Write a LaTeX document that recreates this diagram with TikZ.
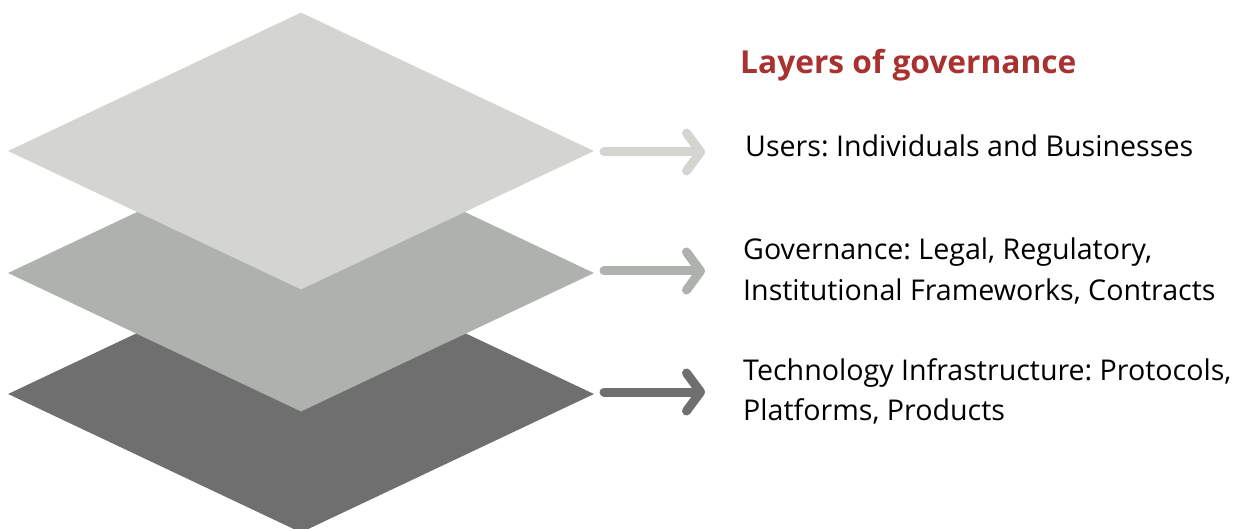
\documentclass[tikz,border=0pt]{standalone}
\usepackage{fontspec}
\setmainfont{Open Sans}
\usepackage{tikz}
\usetikzlibrary{arrows.meta,positioning,shapes.geometric}
\definecolor{layerTop}{HTML}{D4D5D1}
\definecolor{layerMid}{HTML}{AFB1AF}
\definecolor{layerLow}{HTML}{6F6F6F}
\definecolor{titleRed}{HTML}{A8322F}
\frenchspacing

\begin{document}
\begin{tikzpicture}[
		x=1pt,y=-1pt,
		layer/.style={diamond,draw=none,inner sep=0pt,minimum width=586pt,minimum height=277pt},
		pointer/.style={line width=9pt,line cap=round,-{Straight Barb[length=14pt,width=38pt,line cap=round,line join=round]}},
		caption/.style={anchor=base west,inner sep=0pt,align=left,font=\fontsize{28.6}{40}\selectfont}
	]
	\useasboundingbox (0,0) rectangle (1255,529);
	% layers, lowest first
	\node[layer,fill=layerLow] (low) at (301,394) {};
	\node[layer,fill=layerMid] (mid) at (301,273) {};
	\node[layer,fill=layerTop] (top) at (301,151) {};
	% labels (base = last line)
	\node[anchor=base west,inner sep=0pt,text=titleRed,font=\fontsize{31.7}{40}\selectfont\bfseries] (title) at (740,74) {Layers of governance};
	\node[caption] (users) at (745,157) {Users: Individuals and Businesses};
	\node[caption] (gov) at (743,300) {Governance: Legal, Regulatory,\\Institutional Frameworks, Contracts};
	\node[caption] (tech) at (743,420) {Technology Infrastructure: Protocols,\\Platforms, Products};
	% pointers
	\coordinate (p1) at (604,152);
	\coordinate (p2) at (604,271);
	\coordinate (p3) at (604,392);
	\draw[pointer,draw=layerTop] (p1) -- ++(101,0);
	\draw[pointer,draw=layerMid] (p2) -- ++(101,0);
	\draw[pointer,draw=layerLow] (p3) -- ++(101,0);
\end{tikzpicture}
\end{document}
